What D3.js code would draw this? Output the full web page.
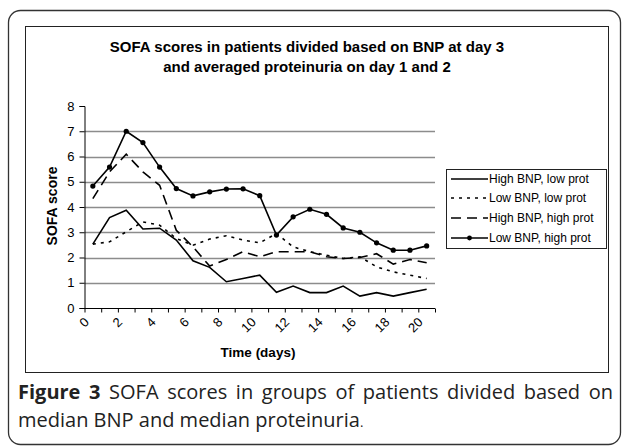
<!DOCTYPE html>
<html>
<head>
<meta charset="utf-8">
<script src="https://cdn.jsdelivr.net/npm/d3@7"></script>
<style>
  body { margin: 0; background: #fff; }
  #wrap { position: relative; width: 629px; height: 448px; }
  svg { position: absolute; left: 0; top: 0; }
  .caption {
    position: absolute; left: 18px; width: 595px;
    font: 20px "Open Sans", "Noto Sans", sans-serif; line-height: 28px;
    color: #222; white-space: nowrap;
  }
  .caption.first { top: 378px; text-align: justify; text-align-last: justify; }
  .caption.second { top: 406px; }
  .caption b { font-weight: 700; }
</style>
</head>
<body>
<div id="wrap">
  <svg id="chart" width="629" height="448"></svg>
  <div class="caption first"><b>Figure 3</b> SOFA scores in groups of patients divided based on</div>
  <div class="caption second">median BNP and median proteinuria<span style="font-size:13px">.</span></div>
</div>
<script>
(function () {
    "use strict";

    const days = d3.range(0, 21);
    const dayLabels = ["0", "2", "4", "6", "8", "10", "12", "14", "16", "18", "20"];
    const yTicks = [0, 1, 2, 3, 4, 5, 6, 7, 8];

    const highBnpLowProt = [2.53, 3.58, 3.87, 3.13, 3.16, 2.69, 1.87, 1.61, 1.04, 1.17, 1.30,
        0.62, 0.87, 0.61, 0.61, 0.87, 0.47, 0.61, 0.47, 0.61, 0.74];
    const lowBnpLowProt = [2.53, 2.62, 3.02, 3.41, 3.28, 2.75, 2.49, 2.73, 2.86, 2.69, 2.58,
        2.95, 2.42, 2.23, 2.09, 1.96, 2.03, 1.63, 1.43, 1.30, 1.17];
    const highBnpHighProt = [4.33, 5.39, 6.09, 5.39, 4.86, 3.08, 2.42, 1.66, 1.92, 2.23, 2.03,
        2.23, 2.23, 2.23, 2.03, 1.96, 2.00, 2.15, 1.74, 1.92, 1.79];
    const lowBnpHighProt = [4.83, 5.58, 7.00, 6.55, 5.58, 4.73, 4.44, 4.60, 4.71, 4.72, 4.45,
        2.89, 3.61, 3.91, 3.71, 3.17, 3.00, 2.58, 2.29, 2.29, 2.46];

    const series = [
        { name: "High BNP, low prot", values: highBnpLowProt, dash: null, marker: false },
        { name: "Low BNP, low prot", values: lowBnpLowProt, dash: "3,5", marker: false },
        { name: "High BNP, high prot", values: highBnpHighProt, dash: "10,6", marker: false },
        { name: "Low BNP, high prot", values: lowBnpHighProt, dash: null, marker: true }
    ];

    const svg = d3.select("#chart");
    const font = "Arial, 'Liberation Sans', sans-serif";

    // outer rounded frame and inner chart box
    svg.append("rect")
        .attr("x", 8.5).attr("y", 10.5).attr("width", 612).attr("height", 434)
        .attr("rx", 12).attr("fill", "none").attr("stroke", "#333").attr("stroke-width", 1.3);
    svg.append("rect")
        .attr("x", 25.5).attr("y", 26.5).attr("width", 583).attr("height", 346)
        .attr("fill", "#fff").attr("stroke", "#222").attr("stroke-width", 1);

    const left = 84.5, right = 435, top = 106, bottom = 308;

    const x = d3.scaleBand().domain(days).range([left, right]);
    const xb = d3.scaleLinear().domain([0, days.length]).range([left, right]);
    const y = d3.scaleLinear().domain([0, 8]).range([bottom, top]);

    // title
    const title = svg.append("text")
        .attr("text-anchor", "middle")
        .style("font", `bold 15px ${font}`);
    title.append("tspan").attr("x", 307).attr("y", 52).text("SOFA scores in patients divided based on BNP at day 3");
    title.append("tspan").attr("x", 307).attr("y", 72).text("and averaged proteinuria on day 1 and 2");

    // gridlines
    svg.append("g")
        .selectAll("line")
        .data(yTicks.filter((d) => d > 0 && d < 8))
        .join("line")
        .attr("x1", left).attr("x2", right)
        .attr("y1", (d) => Math.round(y(d)) + 0.5).attr("y2", (d) => Math.round(y(d)) + 0.5)
        .attr("stroke", "#8c8c8c").attr("stroke-width", 1.5);

    // y axis
    const yAxis = svg.append("g")
        .attr("transform", `translate(${left},0)`)
        .call(d3.axisLeft(y).tickValues(yTicks).tickSize(5).tickPadding(5).tickFormat(d3.format("d")));
    yAxis.selectAll("text").style("font", `13px ${font}`).attr("fill", "#000");
    yAxis.selectAll("line, path").attr("stroke", "#000");

    // x axis
    const xAxis = svg.append("g")
        .attr("transform", `translate(0,${bottom + 0.5})`)
        .call(d3.axisBottom(xb).tickValues(d3.range(0, days.length + 1)).tickSize(4).tickFormat(""));
    xAxis.selectAll("line, path").attr("stroke", "#000");
    xAxis.select("path").attr("d", `M${left},0H${right}`);

    svg.append("g")
        .selectAll("text")
        .data(dayLabels)
        .join("text")
        .attr("text-anchor", "end")
        .attr("transform", (d) => `translate(${x(+d) + x.bandwidth() / 2 - 3},${bottom + 15}) rotate(-45)`)
        .style("font", `13px ${font}`)
        .text((d) => d);

    // axis titles
    svg.append("text")
        .attr("x", 258).attr("y", 357)
        .attr("text-anchor", "middle")
        .style("font", `bold 13.5px ${font}`)
        .text("Time (days)");
    svg.append("text")
        .attr("transform", "translate(57,206) rotate(-90)")
        .attr("text-anchor", "middle")
        .style("font", `bold 14px ${font}`)
        .text("SOFA score");

    // lines
    const line = d3.line()
        .x((d, i) => x(days[i]) + x.bandwidth() / 2)
        .y((d) => y(d));

    const groups = svg.append("g")
        .selectAll("g")
        .data(series)
        .join("g");

    groups.append("path")
        .attr("d", (s) => line(s.values))
        .attr("fill", "none")
        .attr("stroke", "#000")
        .attr("stroke-width", 1.6)
        .attr("stroke-dasharray", (s) => s.dash);

    groups.filter((s) => s.marker)
        .selectAll("circle")
        .data((s) => s.values)
        .join("circle")
        .attr("cx", (d, i) => x(days[i]) + x.bandwidth() / 2)
        .attr("cy", (d) => y(d))
        .attr("r", 2.6)
        .attr("fill", "#000");

    // legend
    const legend = svg.append("g");
    legend.append("rect")
        .attr("x", 446.5).attr("y", 169.5).attr("width", 160).attr("height", 79)
        .attr("fill", "#fff").attr("stroke", "#222").attr("stroke-width", 1);

    const rowY = [179, 198, 218, 238];
    const rows = legend.selectAll("g.row")
        .data(series)
        .join("g")
        .attr("class", "row")
        .attr("transform", (s, i) => `translate(0,${rowY[i]})`);

    rows.append("line")
        .attr("x1", 451).attr("x2", 488)
        .attr("stroke", "#000").attr("stroke-width", 1.6)
        .attr("stroke-dasharray", (s) => s.dash);
    rows.filter((s) => s.marker)
        .append("circle")
        .attr("cx", 469.5).attr("r", 2.4).attr("fill", "#000");
    rows.append("text")
        .attr("x", 489).attr("dy", "0.35em")
        .style("font", `12px ${font}`)
        .text((s) => s.name);
})();
</script>
</body>
</html>
